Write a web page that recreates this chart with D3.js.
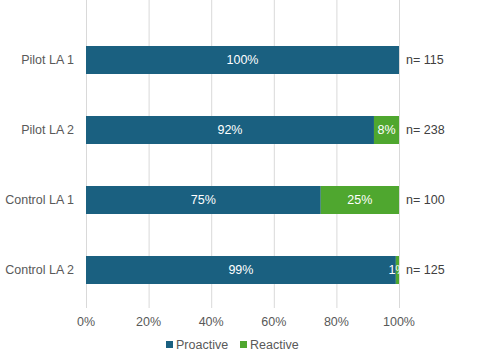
<!DOCTYPE html>
<html>
<head>
<meta charset="utf-8">
<script src="https://cdn.jsdelivr.net/npm/d3@7"></script>
<style>
  body { margin: 0; background: #fff; }
  text { font-family: "Liberation Sans", Arial, sans-serif; }
</style>
</head>
<body>
<svg width="480" height="363"></svg>
<script>
// data
const groups = ["Pilot LA 1", "Pilot LA 2", "Control LA 1", "Control LA 2"];
const proactive = [100, 92, 75, 99];
const reactive = [0, 8, 25, 1];
const counts = [115, 238, 100, 125];
const ticks = [0, 20, 40, 60, 80, 100];
const seriesNames = ["Proactive", "Reactive"];

const colors = { Proactive: "#1a6080", Reactive: "#4fa72f" };

const svg = d3.select("svg");
const margin = { left: 86, right: 81, top: 25, bottom: 58 };
const width = 480, height = 363;

const x = d3.scaleLinear().domain([0, 100]).range([margin.left, width - margin.right]);
const y = d3.scaleBand().domain(groups).range([margin.top, height - margin.bottom]).paddingInner(0.6).paddingOuter(0.3);

// gridlines
svg.append("g").selectAll("line")
  .data(ticks)
  .enter().append("line")
  .attr("x1", d => x(d) + 0.5).attr("x2", d => x(d) + 0.5)
  .attr("y1", 0).attr("y2", height - margin.bottom + 3)
  .attr("stroke", "#d9d9d9").attr("stroke-width", 1);

// tick labels
svg.append("g").selectAll("text")
  .data(ticks)
  .enter().append("text")
  .attr("x", d => x(d))
  .attr("y", 326)
  .attr("text-anchor", "middle")
  .attr("font-size", 12.5)
  .attr("fill", "#595959")
  .text(d => d + "%");

const rows = groups.map((g, i) => ({ g, vals: [proactive[i], reactive[i]], n: counts[i] }));

const stack = d3.stack().keys([0, 1]).value((d, k) => d.vals[k]);
const layers = stack(rows);

svg.append("clipPath").attr("id", "plot")
  .append("rect").attr("x", margin.left).attr("y", 0)
  .attr("width", x(100) - margin.left + 1).attr("height", height);

const barG = svg.append("g");
layers.forEach((layer, k) => {
  const name = seriesNames[k];
  barG.selectAll(".bar" + k)
    .data(layer.filter(d => d.data.vals[k] > 0))
    .enter().append("rect")
    .attr("x", d => x(d[0]))
    .attr("y", d => y(d.data.g))
    .attr("width", d => x(d[1]) - x(d[0]))
    .attr("height", y.bandwidth())
    .attr("fill", colors[name]);

  barG.selectAll(".lab" + k)
    .data(layer.filter(d => d.data.vals[k] > 0))
    .enter().append("text")
    .attr("clip-path", "url(#plot)")
    .attr("x", d => (x(d[0]) + x(d[1])) / 2)
    .attr("y", d => y(d.data.g) + y.bandwidth() / 2)
    .attr("dy", "0.35em")
    .attr("text-anchor", "middle")
    .attr("font-size", 12.5)
    .attr("fill", "#fff")
    .text(d => d.data.vals[k] + "%");
});

// n labels
svg.append("g").selectAll("text")
  .data(rows)
  .enter().append("text")
  .attr("x", x(100) + 7)
  .attr("y", d => y(d.g) + y.bandwidth() / 2)
  .attr("dy", "0.35em")
  .attr("font-size", 12.5)
  .attr("fill", "#404040")
  .text(d => "n= " + d.n);

// category labels
svg.append("g").selectAll("text")
  .data(groups)
  .enter().append("text")
  .attr("x", margin.left - 12)
  .attr("y", d => y(d) + y.bandwidth() / 2)
  .attr("dy", "0.35em")
  .attr("text-anchor", "end")
  .attr("font-size", 12.5)
  .attr("fill", "#595959")
  .text(d => d);

// legend
const legend = svg.append("g").attr("transform", "translate(166,345)");
const legX = [0, 74];
seriesNames.forEach((s, i) => {
  legend.append("rect").attr("x", legX[i]).attr("y", -4).attr("width", 7).attr("height", 7).attr("fill", colors[s]);
  legend.append("text").attr("x", legX[i] + 10).attr("y", 0).attr("dy", "0.35em")
    .attr("font-size", 12.5).attr("fill", "#595959").text(s);
});
</script>
</body>
</html>
